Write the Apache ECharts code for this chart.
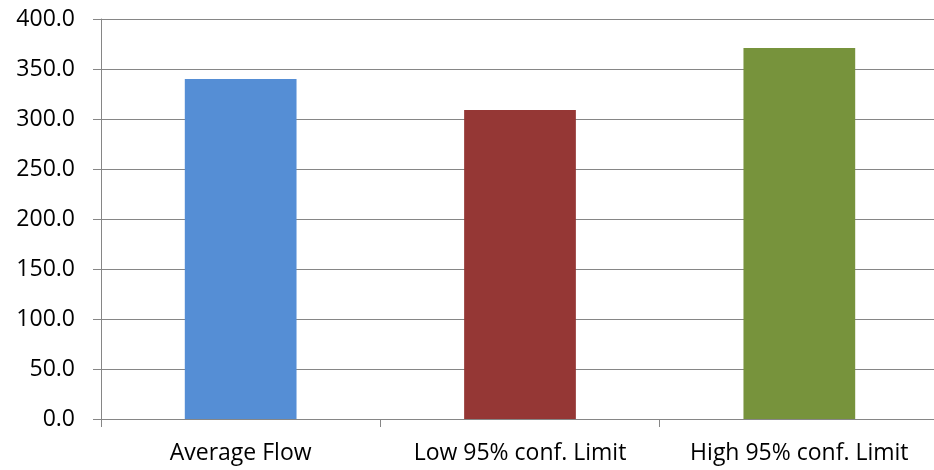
<!DOCTYPE html>
<html>
<head>
<meta charset="utf-8">
<script src="https://cdn.jsdelivr.net/npm/echarts@6/dist/echarts.min.js"></script>
<style>
  html, body { margin: 0; padding: 0; background: #ffffff; }
  #chart { width: 934px; height: 470px; }
</style>
</head>
<body>
<div id="chart"></div>
<script>
// Flow estimate and its 95% confidence bounds
const categories = ['Average Flow', 'Low 95% conf. Limit', 'High 95% conf. Limit'];
const flowValues = [340, 309, 371];
const barColors = ['#558ED5', '#953735', '#77933C'];

const yMin = 0;
const yMax = 400;
const yStep = 50;

const axisGrey = '#868686';
const labelFont = { color: '#000000', fontFamily: 'Open Sans', fontSize: 23 };

const chart = echarts.init(document.getElementById('chart'), null, { renderer: 'canvas' });

chart.setOption({
  animation: false,
  backgroundColor: '#ffffff',
  // plot area runs slightly past the right edge of the canvas
  grid: {
    left: 101, top: 19, height: 400, width: 838,
    containLabel: false,
    outerBoundsMode: 'none'
  },
  xAxis: {
    type: 'category',
    data: categories,
    boundaryGap: true,
    axisLine: { show: true, lineStyle: { color: axisGrey, width: 1 } },
    axisTick: { show: true, length: 8, lineStyle: { color: axisGrey } },
    axisLabel: Object.assign({ margin: 23, interval: 0 }, labelFont),
    splitLine: { show: false }
  },
  yAxis: {
    type: 'value',
    min: yMin,
    max: yMax,
    interval: yStep,
    axisLine: { show: true, lineStyle: { color: axisGrey, width: 1 } },
    axisTick: { show: true, length: 8, lineStyle: { color: axisGrey } },
    axisLabel: Object.assign({ margin: 26, formatter: v => v.toFixed(1) }, labelFont),
    splitLine: { show: true, lineStyle: { color: axisGrey, width: 1 } }
  },
  series: [{
    type: 'bar',
    barWidth: '40%',
    data: flowValues.map((v, i) => ({ value: v, itemStyle: { color: barColors[i] } }))
  }]
});
</script>
</body>
</html>
